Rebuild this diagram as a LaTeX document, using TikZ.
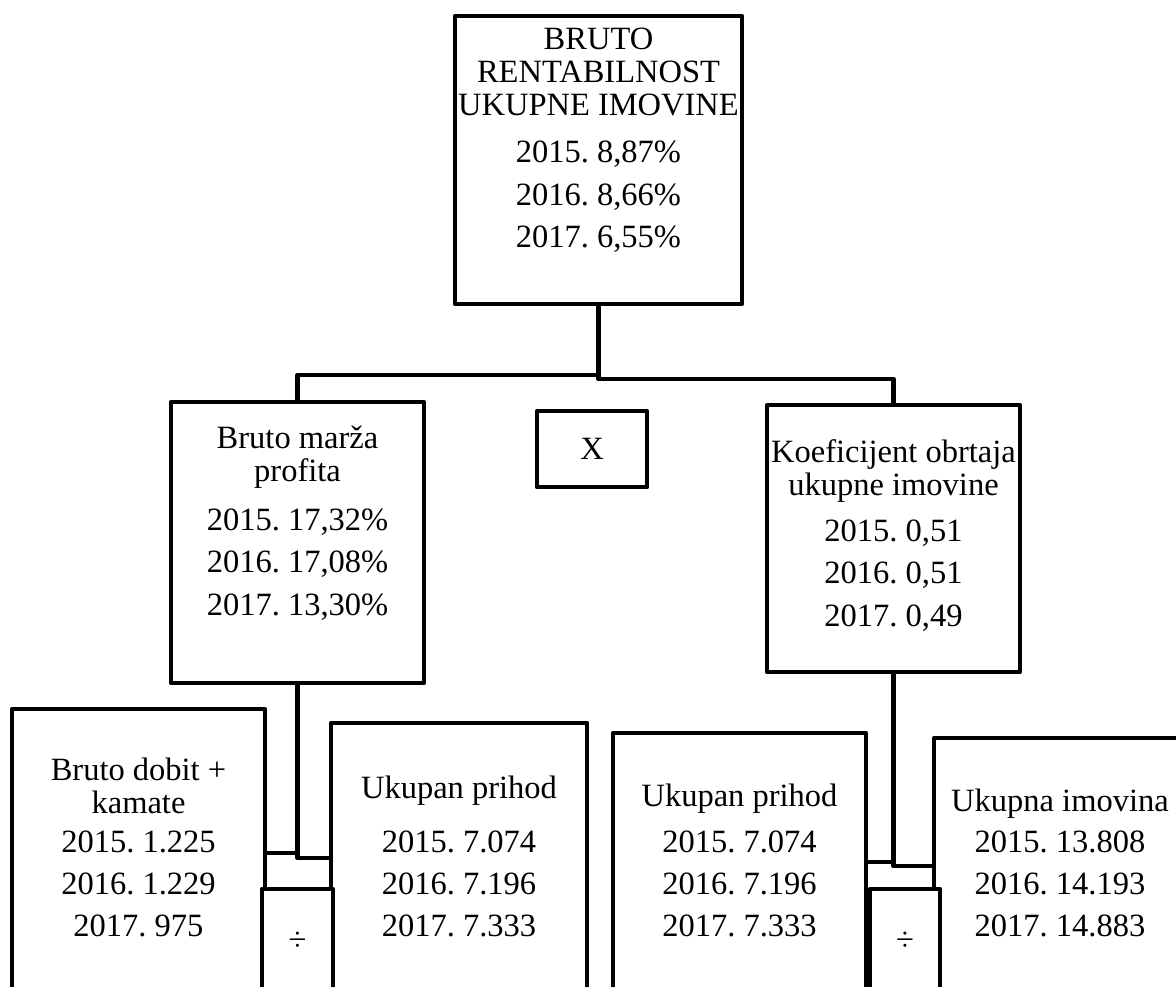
\documentclass[tikz,border=0pt]{standalone}
\usepackage{fontspec}
\setmainfont{Liberation Serif}
\newcommand\bxt[4]{\begin{minipage}[c][#2][t]{#1}\centering\rule{0pt}{#3}#4\end{minipage}}
\tikzset{
  bx/.style={draw, line width=4.5pt, line join=round, inner sep=0pt, outer sep=0pt,
    anchor=north west, font=\fontsize{32.5}{33}\selectfont\frenchspacing},
  divbox/.style={bx, fill=white},
  conn/.style={draw, line width=4.5pt, line join=round},
}
\begin{document}
\begin{tikzpicture}[x=1pt,y=-1pt]
\useasboundingbox (0,0) rectangle (1176,987);
\clip (0,0) rectangle (1176,987);
% top
\node[bx] (tb) at (455,16) {\bxt{287pt}{288pt}{34pt}{BRUTO\\RENTABILNOST\\UKUPNE IMOVINE\\[14pt]2015. 8,87\%\\[9.5pt]2016. 8,66\%\\[9.5pt]2017. 6,55\%}};
% middle level
\node[bx] (lm) at (171,402) {\bxt{253pt}{281pt}{46pt}{Bruto mar\v{z}a\\profita\\[16pt]2015. 17,32\%\\[9.5pt]2016. 17,08\%\\[9.5pt]2017. 13,30\%}};
\node[bx, anchor=center, minimum width=110pt, minimum height=76pt] (xm) at (592,449) {X};
\node[bx] (rm) at (767,405) {\bxt{253pt}{267pt}{57pt}{Koeficijent obrtaja\\ukupne imovine\\[13pt]2015. 0,51\\[9.5pt]2016. 0,51\\[9.5pt]2017. 0,49}};
% bottom level
\node[bx] (bl1) at (12,709) {\bxt{253pt}{320pt}{71pt}{Bruto dobit +\\kamate\\[6pt]2015. 1.225\\[9pt]2016. 1.229\\[9pt]2017. 975}};
\node[bx] (bl2) at (331,723) {\bxt{256pt}{320pt}{75pt}{Ukupan prihod\\[21pt]2015. 7.074\\[9pt]2016. 7.196\\[9pt]2017. 7.333}};
\node[bx] (br1) at (613,733) {\bxt{253pt}{320pt}{73pt}{Ukupan prihod\\[13pt]2015. 7.074\\[9pt]2016. 7.196\\[9pt]2017. 7.333}};
\node[bx] (br2) at (934,738) {\bxt{252pt}{320pt}{73pt}{Ukupna imovina\\[8pt]2015. 13.808\\[9pt]2016. 14.193\\[9pt]2017. 14.883}};
% connectors
\draw[conn] (tb.south) -- ++(0,71) -| (lm.north);
\draw[conn] (tb.south) -- ++(0,75) -| (rm.north);
\draw[conn] (bl1.north east |- 0,853) -| (lm.south);
\draw[conn] (lm.south) |- (bl2.north west |- 0,858);
\draw[conn] (br1.north east |- 0,862) -| (rm.south);
\draw[conn] (rm.south) |- (br2.north west |- 0,866);
% division boxes
\node[divbox] (dl) at (262,889) {\bxt{71pt}{150pt}{61pt}{÷}};
\node[divbox] (dr) at (870,889) {\bxt{70pt}{150pt}{61pt}{÷}};
\end{tikzpicture}
\end{document}
